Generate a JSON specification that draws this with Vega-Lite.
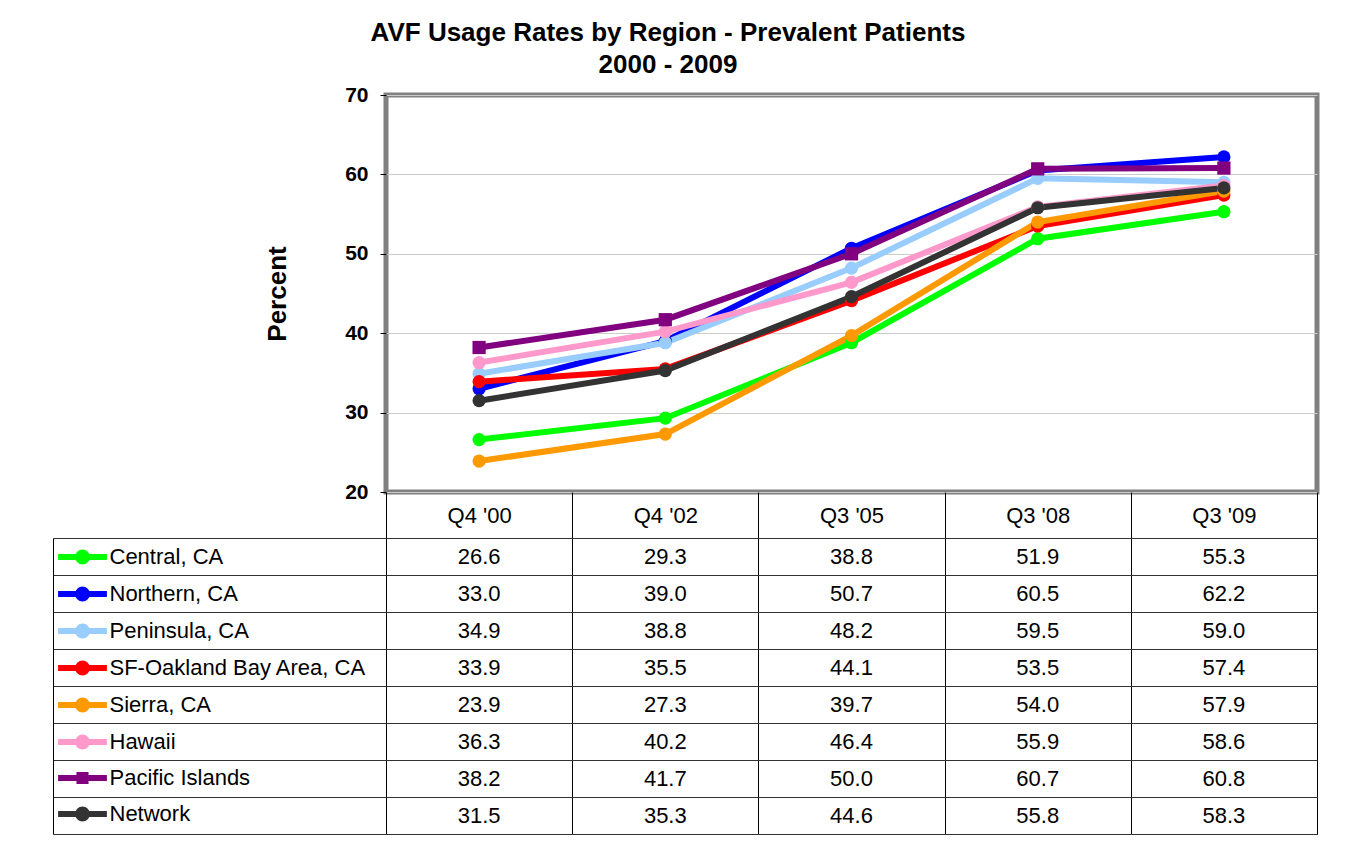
{
  "$schema": "https://vega.github.io/schema/vega-lite/v6.json",
  "padding": {"left": 52, "top": 19, "right": 6, "bottom": 6},
  "background": "white",
  "config": {"font": "Liberation Sans"},
  "title": {
    "text": ["AVF Usage Rates by Region - Prevalent Patients", "2000 - 2009"],
    "font": "Liberation Sans",
    "fontSize": 26,
    "fontWeight": "bold",
    "color": "black",
    "lineHeight": 32,
    "anchor": "middle",
    "dx": -18,
    "offset": 4
  },
  "data": {
    "values": [
      {"region": "Central, CA", "period": "Q4 '00", "value": 26.6},
      {"region": "Central, CA", "period": "Q4 '02", "value": 29.3},
      {"region": "Central, CA", "period": "Q3 '05", "value": 38.8},
      {"region": "Central, CA", "period": "Q3 '08", "value": 51.9},
      {"region": "Central, CA", "period": "Q3 '09", "value": 55.3},
      {"region": "Northern, CA", "period": "Q4 '00", "value": 33.0},
      {"region": "Northern, CA", "period": "Q4 '02", "value": 39.0},
      {"region": "Northern, CA", "period": "Q3 '05", "value": 50.7},
      {"region": "Northern, CA", "period": "Q3 '08", "value": 60.5},
      {"region": "Northern, CA", "period": "Q3 '09", "value": 62.2},
      {"region": "Peninsula, CA", "period": "Q4 '00", "value": 34.9},
      {"region": "Peninsula, CA", "period": "Q4 '02", "value": 38.8},
      {"region": "Peninsula, CA", "period": "Q3 '05", "value": 48.2},
      {"region": "Peninsula, CA", "period": "Q3 '08", "value": 59.5},
      {"region": "Peninsula, CA", "period": "Q3 '09", "value": 59.0},
      {"region": "SF-Oakland Bay Area, CA", "period": "Q4 '00", "value": 33.9},
      {"region": "SF-Oakland Bay Area, CA", "period": "Q4 '02", "value": 35.5},
      {"region": "SF-Oakland Bay Area, CA", "period": "Q3 '05", "value": 44.1},
      {"region": "SF-Oakland Bay Area, CA", "period": "Q3 '08", "value": 53.5},
      {"region": "SF-Oakland Bay Area, CA", "period": "Q3 '09", "value": 57.4},
      {"region": "Sierra, CA", "period": "Q4 '00", "value": 23.9},
      {"region": "Sierra, CA", "period": "Q4 '02", "value": 27.3},
      {"region": "Sierra, CA", "period": "Q3 '05", "value": 39.7},
      {"region": "Sierra, CA", "period": "Q3 '08", "value": 54.0},
      {"region": "Sierra, CA", "period": "Q3 '09", "value": 57.9},
      {"region": "Hawaii", "period": "Q4 '00", "value": 36.3},
      {"region": "Hawaii", "period": "Q4 '02", "value": 40.2},
      {"region": "Hawaii", "period": "Q3 '05", "value": 46.4},
      {"region": "Hawaii", "period": "Q3 '08", "value": 55.9},
      {"region": "Hawaii", "period": "Q3 '09", "value": 58.6},
      {"region": "Pacific Islands", "period": "Q4 '00", "value": 38.2},
      {"region": "Pacific Islands", "period": "Q4 '02", "value": 41.7},
      {"region": "Pacific Islands", "period": "Q3 '05", "value": 50.0},
      {"region": "Pacific Islands", "period": "Q3 '08", "value": 60.7},
      {"region": "Pacific Islands", "period": "Q3 '09", "value": 60.8},
      {"region": "Network", "period": "Q4 '00", "value": 31.5},
      {"region": "Network", "period": "Q4 '02", "value": 35.3},
      {"region": "Network", "period": "Q3 '05", "value": 44.6},
      {"region": "Network", "period": "Q3 '08", "value": 55.8},
      {"region": "Network", "period": "Q3 '09", "value": 58.3}
    ]
  },
  "resolve": {"scale": {"color": "independent", "shape": "independent"}},
  "bounds": "flush",
  "spacing": 46,
  "vconcat": [
    {
      "width": 931,
      "height": 397,
      "view": {"stroke": "#808080", "strokeWidth": 5},
      "encoding": {
        "x": {
          "field": "period",
          "type": "nominal",
          "sort": ["Q4 '00", "Q4 '02", "Q3 '05", "Q3 '08", "Q3 '09"],
          "scale": {"type": "band", "paddingInner": 0, "paddingOuter": 0},
          "axis": {
            "title": null,
            "domain": false,
            "ticks": true,
            "tickBand": "extent",
            "tickSize": 46,
            "tickColor": "black",
            "tickWidth": 1,
            "labelAngle": 0,
            "labelFont": "Liberation Sans",
            "labelFontSize": 22,
            "labelColor": "black",
            "labelBaseline": "middle",
            "labelPadding": -23,
            "grid": false
          }
        },
        "y": {
          "field": "value",
          "type": "quantitative",
          "scale": {"domain": [20, 70], "nice": false, "zero": false},
          "axis": {
            "values": [20, 30, 40, 50, 60, 70],
            "title": "Percent",
            "titleFont": "Liberation Sans",
            "titleFontSize": 26,
            "titleFontWeight": "bold",
            "titleColor": "black",
            "titlePadding": 54,
            "labelFont": "Liberation Sans",
            "labelFontSize": 21,
            "labelFontWeight": "bold",
            "labelColor": "black",
            "labelPadding": 12,
            "domain": false,
            "ticks": true,
            "tickSize": 6,
            "tickColor": "black",
            "grid": true,
            "gridColor": "#cccccc",
            "gridWidth": 1
          }
        },
        "color": {
          "field": "region",
          "type": "nominal",
          "legend": null,
          "scale": {
            "domain": ["Central, CA", "Northern, CA", "Peninsula, CA", "SF-Oakland Bay Area, CA", "Sierra, CA", "Hawaii", "Pacific Islands", "Network"],
            "range": ["#00FF00", "#0000FF", "#99CCFF", "#FF0000", "#FF9900", "#FF99CC", "#800080", "#333333"]
          }
        }
      },
      "layer": [
        {
          "mark": {"type": "line", "strokeWidth": 6}
        },
        {
          "mark": {"type": "point", "filled": true, "opacity": 1, "size": 175},
          "encoding": {
            "shape": {
              "field": "region",
              "type": "nominal",
              "legend": null,
              "scale": {
                "domain": ["Central, CA", "Northern, CA", "Peninsula, CA", "SF-Oakland Bay Area, CA", "Sierra, CA", "Hawaii", "Pacific Islands", "Network"],
                "range": ["circle", "circle", "circle", "circle", "circle", "circle", "square", "circle"]
              }
            }
          }
        }
      ]
    },
    {
      "width": 931,
      "height": 296,
      "view": {"stroke": "black", "strokeWidth": 1},
      "layer": [
        {
          "mark": {"type": "text", "font": "Liberation Sans", "fontSize": 22, "color": "black"},
          "encoding": {
            "x": {
              "field": "period",
              "type": "nominal",
              "sort": ["Q4 '00", "Q4 '02", "Q3 '05", "Q3 '08", "Q3 '09"],
              "scale": {"type": "band", "paddingInner": 0, "paddingOuter": 0},
              "axis": {
                "title": null,
                "labels": false,
                "ticks": false,
                "domain": false,
                "grid": true,
                "gridColor": "black",
                "gridWidth": 1,
                "tickBand": "extent"
              }
            },
            "y": {
              "field": "region",
              "type": "nominal",
              "sort": ["Central, CA", "Northern, CA", "Peninsula, CA", "SF-Oakland Bay Area, CA", "Sierra, CA", "Hawaii", "Pacific Islands", "Network"],
              "scale": {"type": "band", "paddingInner": 0, "paddingOuter": 0},
              "axis": {
                "orient": "left",
                "offset": 333,
                "title": null,
                "labels": false,
                "domain": true,
                "domainColor": "black",
                "domainWidth": 1,
                "ticks": true,
                "tickSize": -333,
                "tickColor": "#333333",
                "tickWidth": 1,
                "tickBand": "extent",
                "grid": true,
                "gridColor": "#333333",
                "gridWidth": 1
              }
            },
            "text": {"field": "value", "type": "quantitative", "format": ".1f"}
          }
        },
        {
          "transform": [{"filter": "false"}],
          "mark": {"type": "point", "filled": false, "opacity": 1},
          "encoding": {
            "color": {
              "field": "region",
              "type": "nominal",
              "scale": {
                "domain": ["Central, CA", "Northern, CA", "Peninsula, CA", "SF-Oakland Bay Area, CA", "Sierra, CA", "Hawaii", "Pacific Islands", "Network"],
                "range": ["#00FF00", "#0000FF", "#99CCFF", "#FF0000", "#FF9900", "#FF99CC", "#800080", "#333333"]
              },
              "legend": {
                "orient": "none",
                "legendX": -314.5,
                "legendY": 8,
                "direction": "vertical",
                "title": null,
                "padding": 0,
                "labelFont": "Liberation Sans",
                "labelFontSize": 22,
                "labelColor": "black",
                "labelLimit": 500,
                "labelOffset": 16,
                "symbolSize": 256,
                "symbolStrokeWidth": 6,
                "symbolOpacity": 1,
                "symbolOffset": 0,
                "rowPadding": 3
              }
            },
            "shape": {
              "field": "region",
              "type": "nominal",
              "scale": {
                "domain": ["Central, CA", "Northern, CA", "Peninsula, CA", "SF-Oakland Bay Area, CA", "Sierra, CA", "Hawaii", "Pacific Islands", "Network"],
                "range": [
                  "M-3.05,0L3.05,0M-0.56,0A0.56,0.56,0,1,0,0.56,0A0.56,0.56,0,1,0,-0.56,0",
                  "M-3.05,0L3.05,0M-0.56,0A0.56,0.56,0,1,0,0.56,0A0.56,0.56,0,1,0,-0.56,0",
                  "M-3.05,0L3.05,0M-0.56,0A0.56,0.56,0,1,0,0.56,0A0.56,0.56,0,1,0,-0.56,0",
                  "M-3.05,0L3.05,0M-0.56,0A0.56,0.56,0,1,0,0.56,0A0.56,0.56,0,1,0,-0.56,0",
                  "M-3.05,0L3.05,0M-0.56,0A0.56,0.56,0,1,0,0.56,0A0.56,0.56,0,1,0,-0.56,0",
                  "M-3.05,0L3.05,0M-0.56,0A0.56,0.56,0,1,0,0.56,0A0.56,0.56,0,1,0,-0.56,0",
                  "M-3.05,0L3.05,0M-0.38,-0.38L0.38,-0.38L0.38,0.38L-0.38,0.38Z",
                  "M-3.05,0L3.05,0M-0.56,0A0.56,0.56,0,1,0,0.56,0A0.56,0.56,0,1,0,-0.56,0"
                ]
              },
              "legend": {
                "orient": "none",
                "legendX": -314.5,
                "legendY": 8,
                "direction": "vertical",
                "title": null,
                "padding": 0,
                "labelFont": "Liberation Sans",
                "labelFontSize": 22,
                "labelColor": "black",
                "labelLimit": 500,
                "labelOffset": 16,
                "symbolSize": 256,
                "symbolStrokeWidth": 6,
                "symbolOpacity": 1,
                "symbolOffset": 0,
                "rowPadding": 3
              }
            }
          }
        }
      ]
    }
  ]
}
